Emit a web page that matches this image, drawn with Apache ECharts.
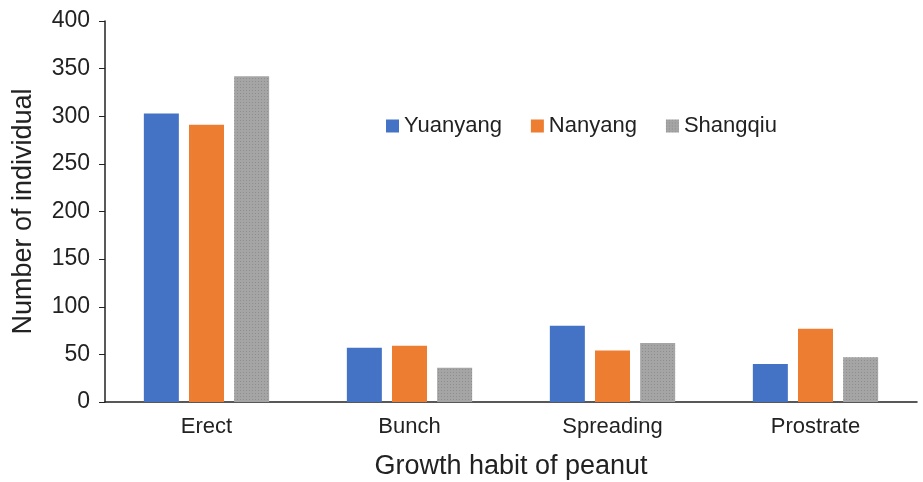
<!DOCTYPE html>
<html>
<head>
<meta charset="utf-8">
<script src="https://cdn.jsdelivr.net/npm/echarts@6/dist/echarts.min.js"></script>
<style>
  html, body { margin: 0; padding: 0; background: #fff; }
  #chart { width: 923px; height: 482px; }
</style>
</head>
<body>
<div id="chart"></div>
<script>
// Growth habit counts per location
const categories = ['Erect', 'Bunch', 'Spreading', 'Prostrate'];
const yuanyang = [303, 57, 80, 40];
const nanyang = [291, 59, 54, 77];
const shangqiu = [342, 36, 62, 47];
const yTicks = { min: 0, max: 400, interval: 50 };

const FONT = '"Liberation Sans", Arial, sans-serif';
const TEXT = '#222';
const chart = echarts.init(document.getElementById('chart'));

function bar(name, data, color, decal) {
  const s = {
    name: name,
    type: 'bar',
    data: data,
    barWidth: 35,
    barGap: '29%',
    itemStyle: { color: color },
    emphasis: { disabled: true }
  };
  if (decal) s.itemStyle.decal = decal;
  return s;
}

// fine stipple on the grey bars
const stipple = {
  symbol: 'rect',
  symbolSize: 1,
  color: 'rgba(90,90,90,0.3)',
  dashArrayX: [1, 2],
  dashArrayY: [1, 2],
  rotation: 0
};

chart.setOption({
  animation: false,
  textStyle: { fontFamily: FONT },
  legend: {
    left: 381,
    top: 110,
    itemWidth: 13,
    itemHeight: 13,
    itemGap: 29,
    icon: 'rect',
    textStyle: { fontSize: 22, color: TEXT, fontFamily: FONT },
    data: ['Yuanyang', 'Nanyang', 'Shangqiu']
  },
  grid: { left: 105, right: 6, top: 21, bottom: 80, outerBoundsMode: 'none', containLabel: false },
  xAxis: {
    type: 'category',
    data: categories,
    name: 'Growth habit of peanut',
    nameLocation: 'middle',
    nameGap: 51,
    nameTextStyle: { fontSize: 27, color: TEXT, fontFamily: FONT },
    axisLine: { lineStyle: { color: TEXT, width: 1.5 } },
    axisTick: { show: false },
    axisLabel: { fontSize: 22, color: TEXT, margin: 14, fontFamily: FONT }
  },
  yAxis: {
    type: 'value',
    min: yTicks.min,
    max: yTicks.max,
    interval: yTicks.interval,
    name: 'Number of individual',
    nameLocation: 'middle',
    nameGap: 68,
    nameTextStyle: { fontSize: 27, color: TEXT, fontFamily: FONT },
    splitLine: { show: false },
    axisLine: { show: true, lineStyle: { color: TEXT, width: 1.5 } },
    axisTick: { show: true, length: 6, lineStyle: { color: TEXT } },
    axisLabel: { fontSize: 23, color: TEXT, margin: 15, fontFamily: FONT }
  },
  series: [
    bar('Yuanyang', yuanyang, '#4472c4'),
    bar('Nanyang', nanyang, '#ed7d31'),
    bar('Shangqiu', shangqiu, '#a5a5a5', stipple)
  ]
});
</script>
</body>
</html>
